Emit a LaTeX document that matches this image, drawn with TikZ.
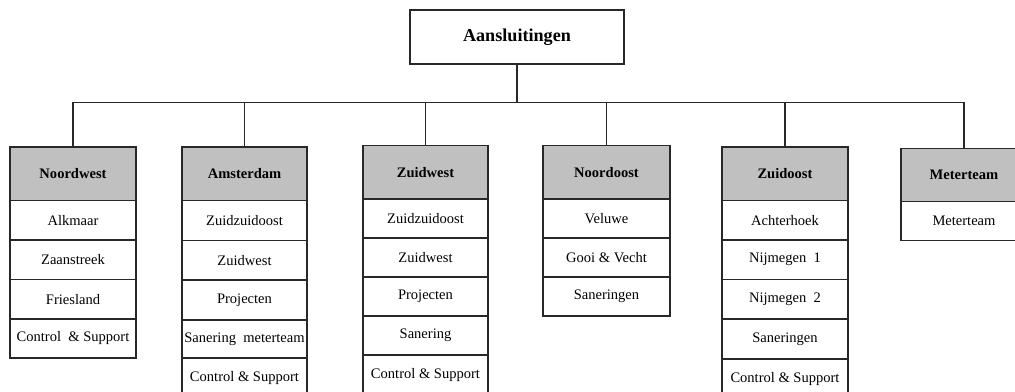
\documentclass[tikz,border=0pt]{standalone}
\usepackage{fontspec}
\setmainfont{Liberation Serif}
\definecolor{headgray}{RGB}{192,192,192}
\definecolor{linegray}{RGB}{40,40,40}
% one cell of a column: name, x1, y1, x2, y2, text, extra style
\newcommand{\orgcell}[7]{%
  \node[cellbox, #7, minimum width={(#4-#2)*0.75pt}, minimum height={(#5-#3)*0.75pt}]
    (#1) at ({(#2+#4)/2},{(#3+#5)/2}) {#6};}
\begin{document}
\begin{tikzpicture}[x=0.75pt, y=-0.75pt,
  cellbox/.style={draw=linegray, line width=0.9pt, fill=white, inner sep=0pt, outer sep=0pt,
                  font=\fontsize{10.9}{13}\selectfont},
  headbox/.style={fill=headgray, font=\fontsize{10.9}{13}\selectfont\bfseries},
  wire/.style={draw=linegray, line width=0.9pt}]
\useasboundingbox (0,0) rectangle (1015,392);

% top box
\node[cellbox, minimum width={214*0.75pt}, minimum height={54*0.75pt},
      font=\fontsize{13.6}{16}\selectfont\bfseries] (top) at (517,37) {Aansluitingen};

% Noordwest
\orgcell{nwh}{10}{147}{136}{200.5}{Noordwest}{headbox}
\orgcell{nw1}{10}{200.5}{136}{240}{Alkmaar}{}
\orgcell{nw2}{10}{240}{136}{279.5}{Zaanstreek}{}
\orgcell{nw3}{10}{279.5}{136}{319}{Friesland}{}
\orgcell{nw4}{10}{319}{136}{358}{Control\ \ \& Support}{}

% Amsterdam
\orgcell{amh}{182}{147}{307}{200.5}{Amsterdam}{headbox}
\orgcell{am1}{182}{200.5}{307}{240.5}{Zuidzuidoost}{}
\orgcell{am2}{182}{240.5}{307}{280}{Zuidwest}{}
\orgcell{am3}{182}{280}{307}{320}{Projecten}{}
\orgcell{am4}{182}{320}{307}{358}{Sanering\ \ meterteam}{}
\orgcell{am5}{182}{358}{307}{398}{Control \& Support}{}

% Zuidwest
\orgcell{zwh}{363}{145.5}{488}{199}{Zuidwest}{headbox}
\orgcell{zw1}{363}{199}{488}{238}{Zuidzuidoost}{}
\orgcell{zw2}{363}{238}{488}{277}{Zuidwest}{}
\orgcell{zw3}{363}{277}{488}{316}{Projecten}{}
\orgcell{zw4}{363}{316}{488}{355}{Sanering}{}
\orgcell{zw5}{363}{355}{488}{395}{Control \& Support}{}

% Noordoost
\orgcell{noh}{543}{145.5}{670}{199}{Noordoost}{headbox}
\orgcell{no1}{543}{199}{670}{238}{Veluwe}{}
\orgcell{no2}{543}{238}{670}{277}{Gooi \& Vecht}{}
\orgcell{no3}{543}{277}{670}{316}{Saneringen}{}

% Zuidoost
\orgcell{zoh}{722}{147}{848}{200.5}{Zuidoost}{headbox}
\orgcell{zo1}{722}{200.5}{848}{240}{Achterhoek}{}
\orgcell{zo2}{722}{240}{848}{279.5}{Nijmegen\ \ 1}{}
\orgcell{zo3}{722}{279.5}{848}{319}{Nijmegen\ \ 2}{}
\orgcell{zo4}{722}{319}{848}{359}{Saneringen}{}
\orgcell{zo5}{722}{359}{848}{399}{Control \& Support}{}

% Meterteam
\orgcell{meh}{901}{148.5}{1027}{201.5}{Meterteam}{headbox}
\orgcell{me1}{901}{201.5}{1027}{240.5}{Meterteam}{}

% connectors
\coordinate (bus) at (517,102.5);
\draw[wire] (top.south) -- (bus);
\draw[wire] (nwh.north) |- (meh.north |- bus) -- (meh.north);
\foreach \h in {amh,zwh,noh,zoh}
  \draw[wire] (\h.north) -- (\h.north |- bus);
\end{tikzpicture}
\end{document}
